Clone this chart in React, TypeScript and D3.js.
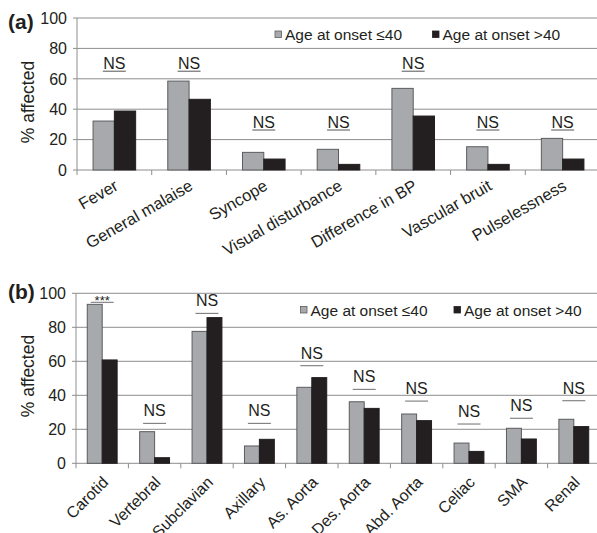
import React from "react";
import * as d3 from "d3";

// ---------- data ----------
const categoriesA = ["Fever", "General malaise", "Syncope", "Visual disturbance", "Difference in BP", "Vascular bruit", "Pulselessness"];
const youngA = [32.2, 58.5, 11.6, 13.6, 53.7, 15.3, 20.8];
const oldA = [38.8, 46.5, 7.2, 3.7, 35.5, 3.7, 7.2];
const sigA = ["NS", "NS", "NS", "NS", "NS", "NS", "NS"];
const sigLevelA = [65, 65, 26.3, 26.3, 65, 26.3, 26.3];

const categoriesB = ["Carotid", "Vertebral", "Subclavian", "Axillary", "As. Aorta", "Des. Aorta", "Abd. Aorta", "Celiac", "SMA", "Renal"];
const youngB = [93.5, 18.6, 77.6, 10.2, 44.7, 36.2, 29.0, 11.9, 20.6, 25.9];
const oldB = [60.8, 3.3, 85.7, 14.1, 50.4, 32.3, 25.1, 7.0, 14.3, 21.6];
const sigB = ["***", "NS", "NS", "NS", "NS", "NS", "NS", "NS", "NS", "NS"];
const sigLevelB = [94.7, 23.5, 88.2, 23.5, 57.4, 43.5, 36.6, 23.1, 26.5, 36.8];

const yTicks = [0, 20, 40, 60, 80, 100];
const seriesNames = ["Age at onset \u226440", "Age at onset >40"];
const seriesKeys = ["young", "old"];

const FONT = "'Liberation Sans', Arial, Helvetica, sans-serif";
const GRAY = "#a7a9ac";
const GRAY_STROKE = "#5b5c5e";
const BLACK = "#231f20";
const GRID = "#8e8e8e";
const TEXT = "#231f20";

type PanelProps = {
  tag: string;
  cats: string[];
  young: number[];
  old: number[];
  sig: string[];
  sigLevel: number[];
  top: number;
  bottom: number;
  left: number;
  right: number;
  angle: number;
  labelDx: number;
  labelDy: number;
  tagY: number;
  axisLabelY: number;
  legendX: [number, number];
  legendY: number;
  sigStyle: "underline" | "bar";
};

function Panel(p: PanelProps) {
  const x = d3.scaleBand<string>().domain(p.cats).range([p.left, p.right]).paddingInner(0).paddingOuter(0);
  const bw = x.bandwidth();
  const sub = d3.scaleBand<string>().domain(seriesKeys).range([bw * 0.215, bw * 0.785]);
  const y = d3.scaleLinear().domain([0, 100]).range([p.bottom, p.top]);
  const boundaries = p.cats.map((c) => x(c) as number).concat([p.right]);

  return (
    <g fontFamily={FONT} fill={TEXT}>
      {/* gridlines + y ticks */}
      {yTicks.map((t) => (
        <g key={t}>
          <line x1={p.left - 4} x2={600} y1={y(t)} y2={y(t)} stroke={GRID} strokeWidth={1} />
          <text x={p.left - 10} y={y(t)} dy="0.36em" textAnchor="end" fontSize={16}>{t}</text>
        </g>
      ))}
      {/* y axis line */}
      <line x1={p.left} x2={p.left} y1={p.top} y2={p.bottom} stroke={GRID} strokeWidth={1} />
      {/* x ticks */}
      {boundaries.map((b, i) => (
        <line key={i} x1={b} x2={b} y1={p.bottom} y2={p.bottom + 5} stroke={GRID} strokeWidth={1} />
      ))}
      {/* bars */}
      {p.cats.map((c, i) => {
        const x0 = x(c) as number;
        return (
          <g key={c}>
            <rect x={x0 + (sub("young") as number)} y={y(p.young[i])} width={sub.bandwidth()} height={y(0) - y(p.young[i])} fill={GRAY} stroke={GRAY_STROKE} strokeWidth={1} />
            <rect x={x0 + (sub("old") as number)} y={y(p.old[i])} width={sub.bandwidth()} height={y(0) - y(p.old[i])} fill={BLACK} stroke={BLACK} strokeWidth={1} />
          </g>
        );
      })}
      {/* significance */}
      {p.cats.map((c, i) => {
        const cx = (x(c) as number) + bw / 2;
        const ly = y(p.sigLevel[i]);
        const isStar = p.sig[i] === "***";
        return (
          <g key={"s" + c}>
            <line x1={cx - 11.5} x2={cx + 11.5} y1={ly} y2={ly} stroke={p.sigStyle === "bar" ? "#6d6e71" : "#555"} strokeWidth={1} />
            {isStar ? (
              <text x={cx} y={ly + 3} textAnchor="middle" fontSize={13}>{p.sig[i]}</text>
            ) : (
              <text x={cx} y={ly - (p.sigStyle === "bar" ? 7 : 2.5)} textAnchor="middle" fontSize={16}>{p.sig[i]}</text>
            )}
          </g>
        );
      })}
      {/* category labels */}
      {p.cats.map((c) => {
        const ax = (x(c) as number) + bw / 2 + p.labelDx;
        const ay = p.bottom + p.labelDy;
        return (
          <text key={"l" + c} x={ax} y={ay} textAnchor="end" fontSize={p.angle === 30 ? 16.5 : 16} transform={`rotate(${-p.angle},${ax},${ay})`}>{c}</text>
        );
      })}
      {/* axis title */}
      <text x={28} y={p.axisLabelY} dy="0.35em" textAnchor="middle" fontSize={17.5} transform={`rotate(-90,28,${p.axisLabelY})`}>% affected</text>
      {/* panel tag */}
      <text x={8} y={p.tagY} fontSize={21} fontWeight="bold">{p.tag}</text>
      {/* legend */}
      {seriesNames.map((n, i) => (
        <g key={n}>
          <rect x={p.legendX[i]} y={p.legendY - 3.5} width={6.5} height={6.5} fill={i === 0 ? GRAY : BLACK} stroke={i === 0 ? GRAY_STROKE : BLACK} strokeWidth={0.8} />
          <text x={p.legendX[i] + 10} y={p.legendY} dy="0.36em" fontSize={15.5}>{n}</text>
        </g>
      ))}
    </g>
  );
}

export default function App() {
  return (
    <svg width={597} height={533} style={{ position: "absolute", left: 0, top: 0, background: "#fff" }}>
      <rect x={0} y={0} width={597} height={533} fill="#fff" />
      <Panel
        tag="(a)"
        cats={categoriesA}
        young={youngA}
        old={oldA}
        sig={sigA}
        sigLevel={sigLevelA}
        top={18}
        bottom={170}
        left={77}
        right={600}
        angle={30}
        labelDx={5}
        labelDy={19}
        tagY={29}
        axisLabelY={102}
        legendX={[275, 432.5]}
        legendY={34.5}
        sigStyle="underline"
      />
      <Panel
        tag="(b)"
        cats={categoriesB}
        young={youngB}
        old={oldB}
        sig={sigB}
        sigLevel={sigLevelB}
        top={293.3}
        bottom={463.3}
        left={76}
        right={600}
        angle={45}
        labelDx={7}
        labelDy={20}
        tagY={299}
        axisLabelY={376}
        legendX={[300.5, 454]}
        legendY={310}
        sigStyle="bar"
      />
    </svg>
  );
}
